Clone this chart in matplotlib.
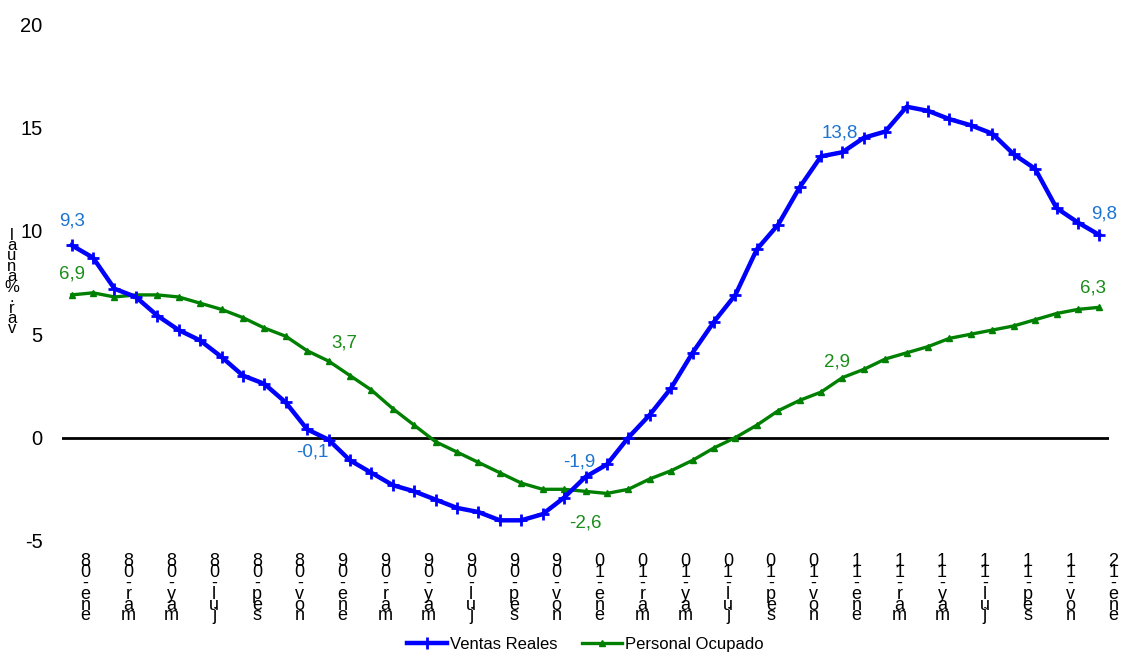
import matplotlib
matplotlib.use("Agg")
from matplotlib import pyplot as plt
from matplotlib.transforms import ScaledTranslation

plt.rcParams['font.family'] = ['Liberation Sans', 'DejaVu Sans']
plt.rcParams['axes.unicode_minus'] = False

months = ['ene', 'feb', 'mar', 'abr', 'may', 'jun', 'jul', 'ago', 'sep', 'oct', 'nov', 'dic']
periods = [f"{m}-{y:02d}" for y in range(8, 12) for m in months] + ['ene-12']

ventas_reales = [9.3, 8.7, 7.2, 6.8, 5.9, 5.2, 4.7, 3.9, 3.0, 2.6, 1.7, 0.4,
                 -0.1, -1.1, -1.7, -2.3, -2.6, -3.0, -3.4, -3.6, -4.0, -4.0, -3.7, -2.9,
                 -1.9, -1.3, 0.0, 1.1, 2.4, 4.1, 5.6, 6.9, 9.1, 10.3, 12.1, 13.6,
                 13.8, 14.5, 14.8, 16.0, 15.8, 15.4, 15.1, 14.7, 13.7, 13.0, 11.1, 10.4,
                 9.8]
personal_ocupado = [6.9, 7.0, 6.8, 6.9, 6.9, 6.8, 6.5, 6.2, 5.8, 5.3, 4.9, 4.2,
                    3.7, 3.0, 2.3, 1.4, 0.6, -0.2, -0.7, -1.2, -1.7, -2.2, -2.5, -2.5,
                    -2.6, -2.7, -2.5, -2.0, -1.6, -1.1, -0.5, 0.0, 0.6, 1.3, 1.8, 2.2,
                    2.9, 3.3, 3.8, 4.1, 4.4, 4.8, 5.0, 5.2, 5.4, 5.7, 6.0, 6.2,
                    6.3]

# (index, x offset px, y offset px) for the value labels
ventas_labels = [(0, 0, 24), (12, -16, -12), (24, -6, 15), (36, -3, 19), (48, 5, 21)]
personal_labels = [(0, 0, 21), (12, 16, 18), (24, 0, -32), (36, -5, 16), (48, -6, 19)]

fig = plt.figure(figsize=(11.21, 6.55), dpi=100)
ax = fig.add_axes([62 / 1121, 1 - 541 / 655, (1109 - 62) / 1121, (541 - 24) / 655])

x = list(range(len(periods)))
ax.axhline(0, color='black', lw=2, zorder=1)
ax.plot(x, ventas_reales, color='#0000FF', lw=3.2, marker='+', ms=8, mew=2,
        label='Ventas Reales', zorder=3)
ax.plot(x, personal_ocupado, color='#008000', lw=2.4, marker='^', ms=5,
        label='Personal Ocupado', zorder=2)

for i, dx, dy in ventas_labels:
    ax.annotate(f"{ventas_reales[i]:.1f}".replace('.', ','), (i, ventas_reales[i]),
                xytext=(dx * 0.72, dy * 0.72), textcoords='offset points',
                ha='center', va='center', color='#1C74D0', fontsize=13.5)
for i, dx, dy in personal_labels:
    ax.annotate(f"{personal_ocupado[i]:.1f}".replace('.', ','), (i, personal_ocupado[i]),
                xytext=(dx * 0.72, dy * 0.72), textcoords='offset points',
                ha='center', va='center', color='#1A8C1A', fontsize=13.5)

ax.set_xlim(-0.45, len(periods) - 0.55)
ax.set_ylim(-5, 20)
ax.set_yticks([-5, 0, 5, 10, 15, 20])
ax.tick_params(axis='y', length=0, pad=14, labelsize=14.5)
for s in ax.spines.values():
    s.set_visible(False)

# stacked, reversed category labels as in the original export
ticks = x[::2]
ax.set_xticks(ticks)
ax.set_xticklabels(["\n".join(reversed(periods[i])) for i in ticks],
                   fontsize=13, linespacing=0.52, va='top')
ax.tick_params(axis='x', length=0, pad=9)
shift = ScaledTranslation(0.14, 0, fig.dpi_scale_trans)
for lab in ax.get_xticklabels():
    lab.set_transform(lab.get_transform() + shift)

fig.text(12 / 1121, 1 - 282 / 655, "\n".join(reversed("var.%anual")),
         fontsize=12, linespacing=0.62, ha='center', va='center')

ax.legend(loc='lower center', bbox_to_anchor=(0.5, -0.243), ncol=2, frameon=False,
          fontsize=12, handlelength=2.4, columnspacing=1.5, handletextpad=0.15)

fig.savefig("out.png", dpi=100)
